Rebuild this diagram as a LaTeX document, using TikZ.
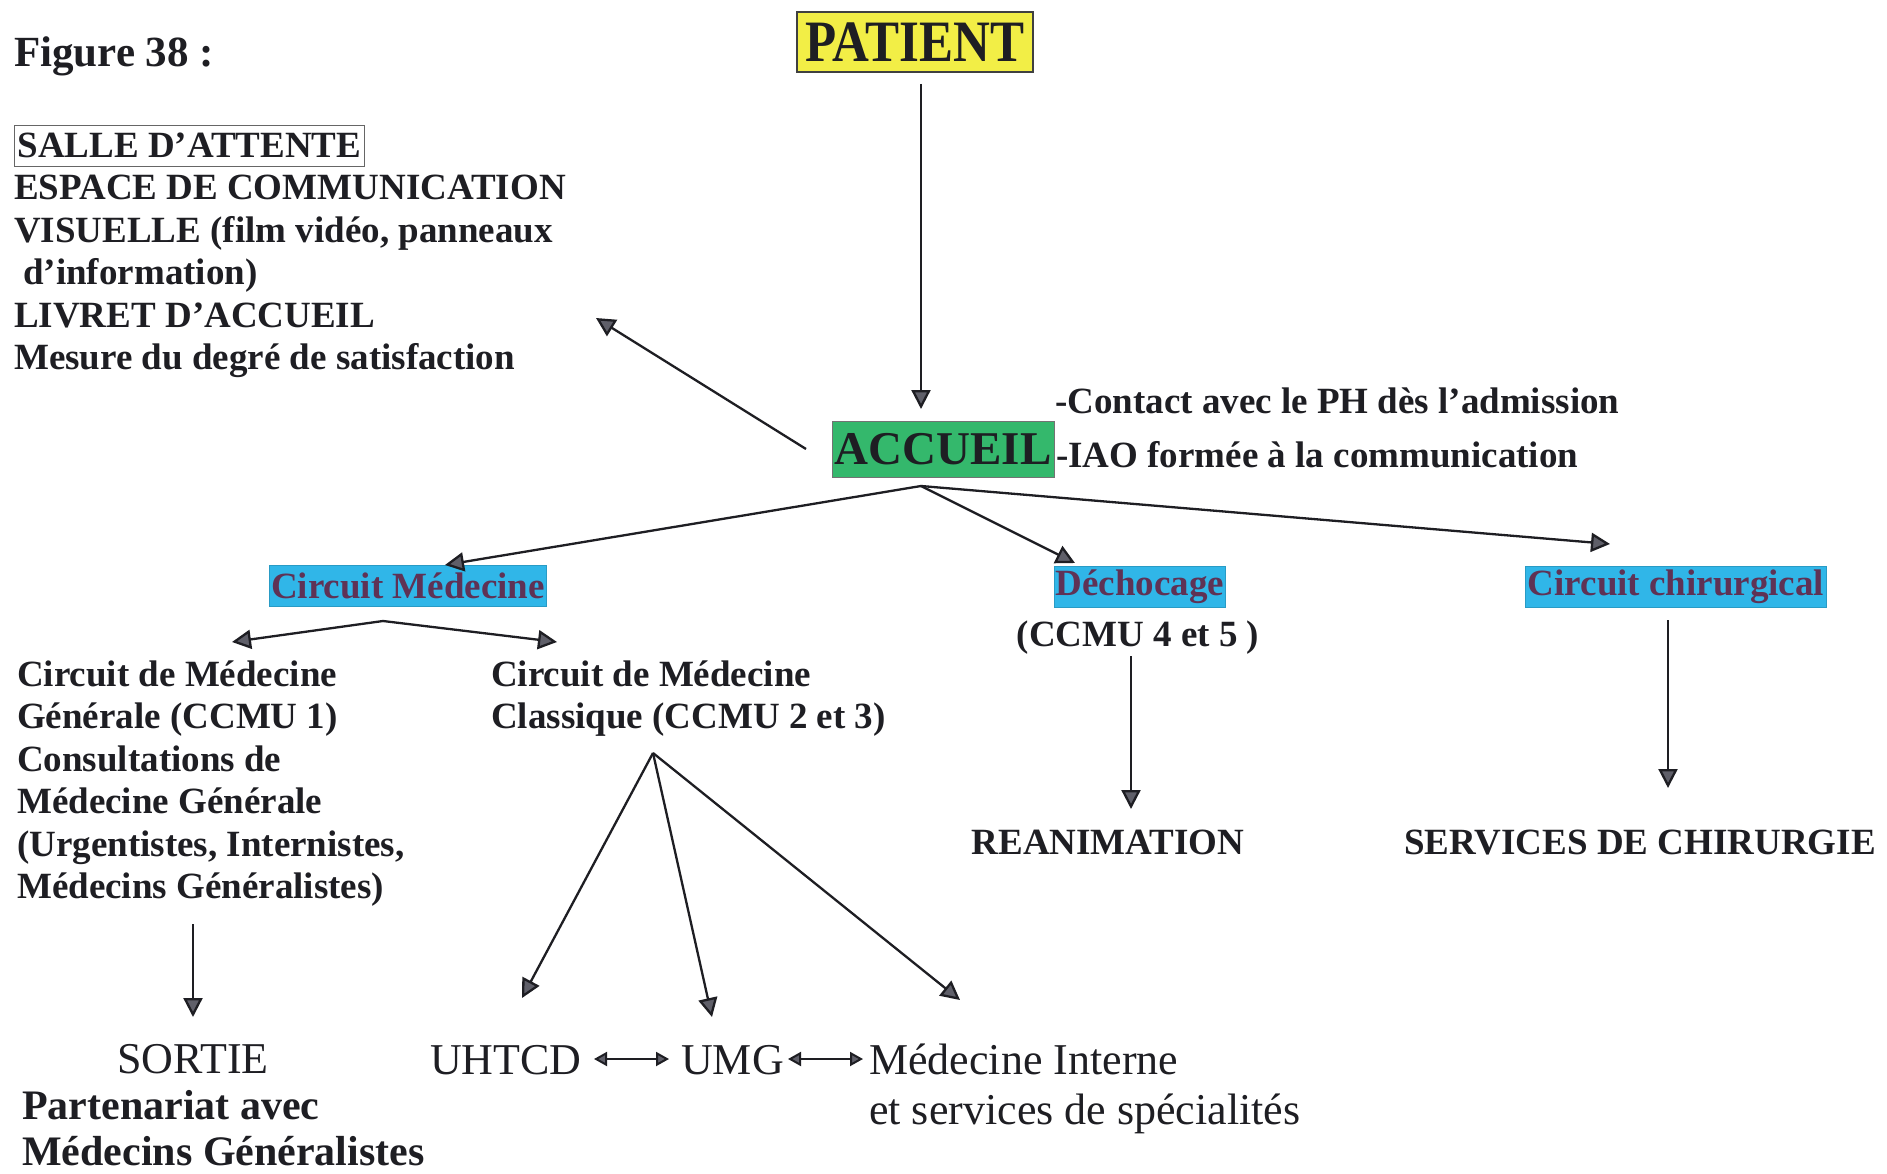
\documentclass[tikz,border=0pt]{standalone}
\usepackage{fontspec}
\setmainfont{Liberation Serif}
\usetikzlibrary{arrows.meta}
\definecolor{pyellow}{RGB}{242,238,70}
\definecolor{pgreen}{RGB}{52,184,108}
\definecolor{pblue}{RGB}{48,182,232}
\definecolor{btext}{RGB}{95,50,85}
\definecolor{ink}{RGB}{30,30,35}
\definecolor{headfill}{RGB}{95,95,105}
\tikzset{
  txt/.style={inner sep=0pt, anchor=base west, text=ink, font=\fontsize{37}{42}\selectfont\bfseries},
  bigtxt/.style={inner sep=0pt, anchor=base west, text=ink, font=\fontsize{42}{46}\selectfont\bfseries},
  regtxt/.style={inner sep=0pt, anchor=base west, text=ink, font=\fontsize{44}{48}\selectfont},
  bluebox/.style={fill=pblue, draw=pblue!85!black, line width=0.8pt, minimum height=41pt, inner sep=0pt,
     text=btext, font=\fontsize{37}{42}\selectfont\bfseries},
  arr/.style={draw=ink, line width=2.3pt, -{Triangle[length=19pt,width=19pt,fill=headfill]}},
  darr/.style={draw=ink, line width=2pt, {Triangle[length=13pt,width=14pt,fill=headfill]}-{Triangle[length=13pt,width=14pt,fill=headfill]}}
}
\begin{document}
\begin{tikzpicture}[x=1pt,y=-1pt]
\path[use as bounding box] (0,0) rectangle (1887,1174);
\fill[white] (0,0) rectangle (1887,1174);

% title
\node[txt, font=\fontsize{43}{46}\selectfont\bfseries] (fig) at (14,67) {Figure 38 :};

% PATIENT
\node[draw=black!75, fill=pyellow, line width=1.2pt, minimum width=236pt, minimum height=60pt, inner sep=0pt,
      text=ink, font=\fontsize{51}{54}\selectfont\bfseries] (patient) at (915,42) {\scalebox{1}[1.15]{PATIENT}};

% ACCUEIL
\node[draw=black!55, fill=pgreen, line width=1pt, minimum width=222pt, minimum height=56pt, inner sep=0pt,
      text=ink, font=\fontsize{47}{50}\selectfont\bfseries] (accueil) at (943,449) {ACCUEIL};
\node[txt] (contact) at (1055,413) {-Contact avec le PH dès l'admission};
\node[txt] (iao) at (1056,467) {-IAO formée à la communication};

% left upper block
\node[txt, draw=black!60, line width=1pt, inner xsep=3pt, inner ysep=8pt] (salle) at (14,158) {SALLE D'ATTENTE};
\node[txt] (espace) at (14,200) {ESPACE DE COMMUNICATION};
\node[txt] (visuelle) at (14,243) {VISUELLE (film vidéo, panneaux};
\node[txt] (dinfo) at (23,285) {d'information)};
\node[txt] (livret) at (14,327) {LIVRET D'ACCUEIL};
\node[txt] (mesure) at (14,369) {Mesure du degré de satisfaction};

% blue boxes
\node[bluebox, minimum width=277pt] (cmed) at (408,586) {Circuit Médecine};
\node[bluebox, minimum width=171pt] (dechoc) at (1140,587) {Déchocage};
\node[bluebox, minimum width=301pt] (chir) at (1676,587) {Circuit chirurgical};

\node[txt, anchor=base] (ccmu) at (1138,646) {(CCMU 4 et 5 )};
\node[txt, anchor=base] (reanim) at (1108,854) {REANIMATION};
\node[txt] (servchir) at (1404,854) {SERVICES DE CHIRURGIE};

% left lower block
\node[txt] (g1) at (17,686) {Circuit de Médecine};
\node[txt] (g2) at (17,728.5) {Générale (CCMU 1)};
\node[txt] (g3) at (17,771) {Consultations de};
\node[txt] (g4) at (17,813.5) {Médecine Générale};
\node[txt] (g5) at (17,856) {(Urgentistes, Internistes,};
\node[txt] (g6) at (17,898.5) {Médecins Généralistes)};

\node[txt] (c1) at (491,686) {Circuit de Médecine};
\node[txt] (c2) at (491,728.5) {Classique (CCMU 2 et 3)};

% bottom
\node[regtxt, anchor=base] (sortie) at (193,1073) {SORTIE};
\node[bigtxt] (part1) at (22,1119) {Partenariat avec};
\node[bigtxt] (part2) at (22,1165) {Médecins Généralistes};

\node[regtxt] (uhtcd) at (430,1074) {UHTCD};
\node[regtxt] (umg) at (681,1074) {UMG};
\node[regtxt] (medint) at (869,1074) {Médecine Interne};
\node[regtxt] (spec) at (869,1124) {et services de spécialités};

% connector coordinates
\coordinate (pOut) at (921,84);
\coordinate (aIn) at (921,409);
\coordinate (aLeft) at (806,449);
\coordinate (infoTip) at (596,318);
\coordinate (aBot) at (921,486);
\coordinate (cmedTip) at (445,565);
\coordinate (dechTip) at (1075,563);
\coordinate (chirTip) at (1610,544);
\coordinate (cmedApex) at (383,621);
\coordinate (genTip) at (232,642);
\coordinate (claTip) at (557,642);
\coordinate (dechOut) at (1131,656);
\coordinate (reaTip) at (1131,809);
\coordinate (chirOut) at (1668,620);
\coordinate (servTip) at (1668,788);
\coordinate (genOut) at (193,924);
\coordinate (sortTip) at (193,1017);
\coordinate (claApex) at (653,753);
\coordinate (uhTip) at (522,998);
\coordinate (umgTip) at (712,1017);
\coordinate (miTip) at (960,1000);
\coordinate (d1a) at (594,1059);
\coordinate (d1b) at (669,1059);
\coordinate (d2a) at (788,1059);
\coordinate (d2b) at (863,1059);

% connectors
\draw[arr] (pOut) -- (aIn);
\draw[arr] (aLeft) -- (infoTip);
\draw[arr] (aBot) -- (cmedTip);
\draw[arr] (aBot) -- (dechTip);
\draw[arr] (aBot) -- (chirTip);
\draw[arr] (cmedApex) -- (genTip);
\draw[arr] (cmedApex) -- (claTip);
\draw[arr] (dechOut) -- (reaTip);
\draw[arr] (chirOut) -- (servTip);
\draw[arr] (genOut) -- (sortTip);
\draw[arr] (claApex) -- (uhTip);
\draw[arr] (claApex) -- (umgTip);
\draw[arr] (claApex) -- (miTip);
\draw[darr] (d1a) -- (d1b);
\draw[darr] (d2a) -- (d2b);
\end{tikzpicture}
\end{document}
